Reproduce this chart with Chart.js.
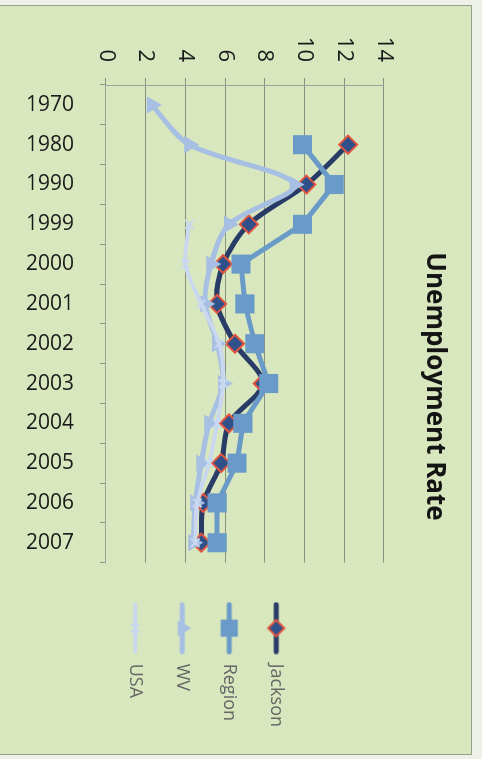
<!DOCTYPE html>
<html lang="en">
<head>
  <meta charset="UTF-8">
  <title>Unemployment Rate</title>
  <script src="https://cdn.jsdelivr.net/npm/chart.js"></script>
  <style>
    * { box-sizing: border-box; margin: 0; padding: 0; }
    body { width: 482px; height: 759px; overflow: hidden; background: #eef1e8; }

    /* chart is laid out landscape, then turned a quarter clockwise like the scan */
    .turn {
      position: absolute;
      left: 0; top: 0;
      width: 759px; height: 482px;
      transform-origin: 0 0;
      transform: translateX(482px) rotate(90deg);
    }
    .frame {
      position: absolute;
      left: 5px; top: 10px;
      width: 750px; height: 474px;
      background: #d8e7bd;
      border: 1px solid #98a18f;
    }
    .turn canvas { position: absolute; left: 0; top: 0; }
  </style>
</head>
<body>

<div class="turn">
  <div class="frame"></div>
  <canvas id="rateChart" width="759" height="482"></canvas>
</div>

<script>
  // data
  const years   = ['1970', '1980', '1990', '1999', '2000', '2001', '2002', '2003', '2004', '2005', '2006', '2007'];
  const jackson = [null, 12.2, 10.1, 7.2, 5.9, 5.6, 6.5, 7.9, 6.2, 5.8, 4.9, 4.8];
  const region  = [null, 9.9, 11.5, 9.9, 6.8, 7.0, 7.5, 8.2, 6.9, 6.6, 5.6, 5.6];
  const wv      = [2.3, 4.2, 9.5, 6.2, 5.3, 5.0, 5.6, 5.9, 5.2, 4.8, 4.5, 4.4];
  const usa     = [null, null, null, 4.2, 4.0, 4.8, 5.7, 5.9, 5.6, 5.2, 4.6, 4.5];
  const rateTicks = { min: 0, max: 14, step: 2 };

  const font = 'Open Sans';

  // little line + marker picture for each legend entry
  function legendSample(ds) {
    const c = document.createElement('canvas');
    c.width = 53;
    c.height = 22;
    const g = c.getContext('2d');
    g.strokeStyle = ds.borderColor;
    g.lineWidth = ds.borderWidth;
    g.lineCap = 'round';
    g.beginPath();
    g.moveTo(3, 11);
    g.lineTo(50, 11);
    g.stroke();
    g.fillStyle = ds.pointBackgroundColor;
    g.strokeStyle = ds.pointBorderColor;
    g.lineWidth = ds.pointBorderWidth;
    Chart.helpers.drawPoint(g, {
      pointStyle: ds.pointStyle,
      radius: ds.pointRadius * 0.9,
      rotation: 0,
      borderWidth: ds.pointBorderWidth
    }, 26.5, 11);
    return c;
  }

  new Chart(document.getElementById('rateChart'), {
    type: 'line',
    data: {
      labels: years,
      datasets: [
        { label: 'Jackson', data: jackson, order: 4, tension: 0.3,
          borderColor: '#293b67', borderWidth: 5,
          pointStyle: 'rectRot', pointRadius: 9,
          pointBackgroundColor: '#30508a', pointBorderColor: '#e2553f', pointBorderWidth: 2 },
        { label: 'Region', data: region, order: 3, tension: 0,
          borderColor: '#6a9bc8', borderWidth: 5,
          pointStyle: 'rect', pointRadius: 13.5,
          pointBackgroundColor: '#6a9bc8', pointBorderColor: '#6a9bc8', pointBorderWidth: 0 },
        { label: 'WV', data: wv, order: 2, tension: 0.3,
          borderColor: '#a6bfe3', borderWidth: 5,
          pointStyle: 'triangle', pointRadius: 10,
          pointBackgroundColor: '#a6bfe3', pointBorderColor: '#a6bfe3', pointBorderWidth: 0 },
        { label: 'USA', data: usa, order: 1, tension: 0.3,
          borderColor: '#c9d8ee', borderWidth: 4,
          pointStyle: 'crossRot', pointRadius: 6,
          pointBackgroundColor: '#c9d8ee', pointBorderColor: '#c9d8ee', pointBorderWidth: 2 }
      ]
    },
    options: {
      responsive: false,
      animation: false,
      events: [],
      layout: { padding: { left: 36, right: 22, top: 10, bottom: 0 } },
      elements: { line: { borderJoinStyle: 'round', borderCapStyle: 'round' } },
      plugins: {
        title: {
          display: true,
          text: 'Unemployment Rate',
          color: '#141414',
          font: { family: font, size: 26, weight: 'bold' },
          padding: { top: 22, bottom: 35 }
        },
        legend: {
          position: 'right',
          align: 'center',
          title: { display: true, text: '', font: { size: 12 }, padding: { top: 23, bottom: 23 } },
          labels: {
            usePointStyle: true,
            pointStyleWidth: 53,
            padding: 29,
            color: '#141414',
            font: { family: font, size: 18 },
            generateLabels: chart => chart.data.datasets.map((ds, i) => ({
              text: ds.label,
              pointStyle: legendSample(ds),
              fillStyle: ds.borderColor,
              strokeStyle: ds.borderColor,
              lineWidth: 0,
              hidden: false,
              datasetIndex: i
            }))
          }
        },
        tooltip: { enabled: false }
      },
      scales: {
        x: {
          offset: true,
          grid: { offset: true, drawOnChartArea: false, tickLength: 6, color: '#8e9889' },
          border: { color: '#9aa39c' },
          ticks: { minRotation: 90, maxRotation: 90, padding: 26, color: '#1a1a1a', font: { family: font, size: 21 } },
          afterFit: s => { s.height = 106; }
        },
        y: {
          min: rateTicks.min,
          max: rateTicks.max,
          ticks: { stepSize: rateTicks.step, padding: 16, color: '#1a1a1a', font: { family: font, size: 22 } },
          grid: { color: '#87917f', tickLength: 7 },
          border: { color: '#9aa39c' },
          afterFit: s => { s.width = 49; }
        },
        gap: {
          display: false,
          position: 'right',
          afterFit: s => { s.width = 10; }
        }
      }
    }
  });
</script>

</body>
</html>
